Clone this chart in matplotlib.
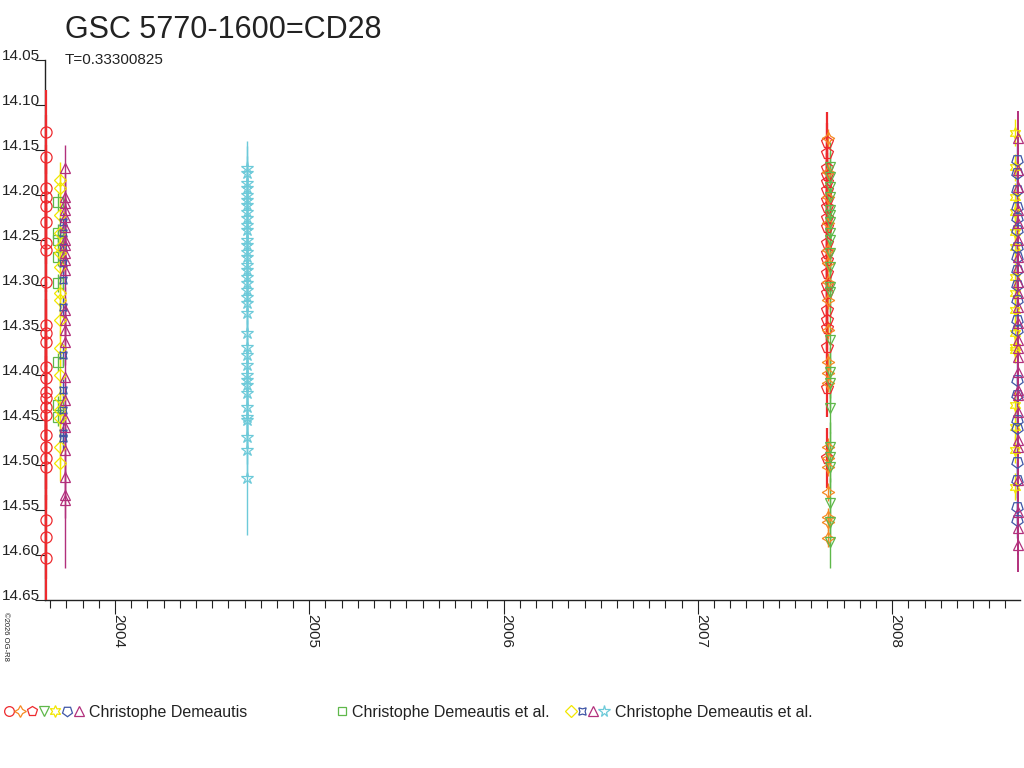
import matplotlib
matplotlib.use("Agg")
import matplotlib.pyplot as plt
import numpy as np
from matplotlib.lines import Line2D
from matplotlib.legend_handler import HandlerTuple
from matplotlib.ticker import MultipleLocator

plt.rcParams['font.family'] = ['Liberation Sans', 'DejaVu Sans']

# ---------------- data ----------------
title = "GSC 5770-1600=CD28"
subtitle = "T=0.33300825"
year_ticks = [2004, 2005, 2006, 2007, 2008]
mag_ticks = [14.05, 14.10, 14.15, 14.20, 14.25, 14.30, 14.35, 14.40, 14.45, 14.50, 14.55, 14.60, 14.65]

# cluster 1 (2003.6-2003.75)
c1_red_date = 2003.647
c1_red_mag = [14.130, 14.158, 14.192, 14.202, 14.212, 14.230, 14.253, 14.261, 14.297, 14.344,
              14.353, 14.363, 14.391, 14.403, 14.419, 14.426, 14.436, 14.444, 14.467, 14.480,
              14.492, 14.502, 14.561, 14.580, 14.603]
c1_red_err = 0.047

c1_green_date = 2003.707
c1_green_mag = [14.208, 14.242, 14.250, 14.269, 14.298, 14.386, 14.433, 14.447]
c1_green_err = 0.01

c1_yellow_date = 2003.717
c1_yellow_mag = [14.183, 14.192, 14.222, 14.242, 14.258, 14.264, 14.280, 14.309, 14.317, 14.339,
                 14.370, 14.400, 14.426, 14.439, 14.448, 14.480, 14.498]
c1_yellow_err = 0.02

c1_blue_date = 2003.732
c1_blue_mag = [14.230, 14.242, 14.258, 14.276, 14.294, 14.324, 14.378, 14.417, 14.439, 14.464, 14.470]
c1_blue_err = 0.012

c1_mag_date = 2003.743
c1_mag_mag = [14.170, 14.202, 14.209, 14.217, 14.224, 14.236, 14.250, 14.256, 14.264, 14.272,
              14.283, 14.328, 14.339, 14.350, 14.363, 14.402, 14.428, 14.448, 14.458, 14.483,
              14.513, 14.533, 14.539]
c1_mag_err = [0.026] * 22 + [0.075]

# cluster 2 (2004.68)
c2_cyan_date = 2004.679
c2_cyan_mag = [14.170, 14.176, 14.187, 14.192, 14.200, 14.206, 14.211, 14.219, 14.226, 14.233,
               14.239, 14.250, 14.256, 14.263, 14.269, 14.278, 14.283, 14.291, 14.298, 14.306,
               14.313, 14.320, 14.331, 14.353, 14.369, 14.378, 14.389, 14.400, 14.406, 14.411,
               14.420, 14.436, 14.447, 14.450, 14.469, 14.483, 14.514]
c2_cyan_err = [0.03] * 36 + [0.064]

# cluster 3 (2007.67)
c3_red_date = 2007.664
c3_red_mag = [14.141, 14.153, 14.170, 14.178, 14.186, 14.194, 14.206, 14.213, 14.226, 14.236,
              14.253, 14.264, 14.272, 14.287, 14.300, 14.309, 14.328, 14.339, 14.348, 14.369,
              14.414, 14.492]
c3_red_err = 0.033

c3_orange_date = 2007.669
c3_orange_mag = [14.137, 14.174, 14.202, 14.231, 14.261, 14.276, 14.297, 14.317, 14.350, 14.386,
                 14.398, 14.409, 14.480, 14.492, 14.502, 14.530, 14.558, 14.563, 14.581]
c3_orange_err = 0.01

c3_green_date = 2007.680
c3_green_mag = [14.169, 14.180, 14.191, 14.202, 14.217, 14.222, 14.230, 14.242, 14.250, 14.264,
                14.280, 14.302, 14.308, 14.361, 14.397, 14.409, 14.437, 14.480, 14.491, 14.502,
                14.542, 14.563, 14.586]
c3_green_err = 0.028

# cluster 4 (2008.64)
c4_yellow_date = 2008.632
c4_yellow_mag = [14.131, 14.169, 14.202, 14.219, 14.241, 14.258, 14.291, 14.309, 14.328, 14.353,
                 14.369, 14.372, 14.433, 14.458, 14.483, 14.524]
c4_yellow_err = 0.015

c4_blue_date = 2008.642
c4_blue_mag = [14.161, 14.176, 14.194, 14.213, 14.226, 14.239, 14.258, 14.269, 14.283, 14.300,
               14.317, 14.339, 14.350, 14.406, 14.422, 14.450, 14.459, 14.497, 14.517, 14.547, 14.561]
c4_blue_err = 0.02

c4_mag_date = 2008.647
c4_mag_mag = [14.137, 14.172, 14.191, 14.217, 14.231, 14.250, 14.269, 14.280, 14.297, 14.309,
              14.324, 14.342, 14.361, 14.370, 14.380, 14.397, 14.417, 14.422, 14.441, 14.472,
              14.480, 14.517, 14.552, 14.570, 14.589]
c4_mag_err = 0.03

legend1_label = "Christophe Demeautis"
legend2_label = "Christophe Demeautis et al."
legend3_label = "Christophe Demeautis et al."

# ---------------- styles ----------------
RED = '#ee2a2e'
ORANGE = '#f58a24'
GREEN = '#5fb84a'
YELLOW = '#f2e600'
BLUE = '#3f56a6'
MAGENTA = '#b2307c'
CYAN = '#6dcad9'

M_CIRCLE = 'o'
M_4STAR = (4, 1, 0)
M_PENT = 'p'
M_TRIDOWN = 'v'
M_6STAR = (6, 1, 0)
M_PENTDOWN = (5, 0, 180)
M_TRIUP = '^'
M_SQUARE = 's'
M_DIAMOND = 'D'
M_X4STAR = (4, 1, 45)
M_STAR = '*'

fig = plt.figure(figsize=(10.24, 7.68), dpi=100)
ax = fig.add_axes([45 / 1024, 1 - 600 / 768, 975 / 1024, 540 / 768])

series = [
    (c1_red_date, c1_red_mag, c1_red_err, RED, M_CIRCLE, 8.0, 1.6),
    (c1_green_date, c1_green_mag, c1_green_err, GREEN, M_SQUARE, 6.5, 1.0),
    (c1_yellow_date, c1_yellow_mag, c1_yellow_err, YELLOW, M_DIAMOND, 6.0, 1.0),
    (c1_blue_date, c1_blue_mag, c1_blue_err, BLUE, M_X4STAR, 7.5, 1.0),
    (c1_mag_date, c1_mag_mag, c1_mag_err, MAGENTA, M_TRIUP, 7.5, 1.0),
    (c2_cyan_date, c2_cyan_mag, c2_cyan_err, CYAN, M_STAR, 9.0, 1.0),
    (c3_red_date, c3_red_mag, c3_red_err, RED, M_PENT, 8.5, 1.6),
    (c3_orange_date, c3_orange_mag, c3_orange_err, ORANGE, M_4STAR, 9.0, 1.0),
    (c3_green_date, c3_green_mag, c3_green_err, GREEN, M_TRIDOWN, 7.5, 1.0),
    (c4_yellow_date, c4_yellow_mag, c4_yellow_err, YELLOW, M_6STAR, 8.5, 1.0),
    (c4_blue_date, c4_blue_mag, c4_blue_err, BLUE, M_PENTDOWN, 8.5, 1.0),
    (c4_mag_date, c4_mag_mag, c4_mag_err, MAGENTA, M_TRIUP, 7.5, 1.4),
]

for date, mags, err, col, mk, ms, elw in series:
    xs = np.full(len(mags), date)
    ax.errorbar(xs, mags, yerr=err, fmt='', marker=mk, linestyle='none', color=col,
                mfc='none', mec=col, ms=ms, mew=0.9, elinewidth=elw, capsize=0, clip_on=False,
                zorder=3)

ax.set_xlim(2003.6398, 2008.658)
ax.set_ylim(14.65, 14.05)

for s in ['top', 'right']:
    ax.spines[s].set_visible(False)
for s in ['left', 'bottom']:
    ax.spines[s].set_linewidth(1.0)
    ax.spines[s].set_color('#222222')
    ax.spines[s].set_zorder(2)

ax.set_yticks(mag_ticks)
ax.set_yticklabels([f"{v:.2f}" for v in mag_ticks])
ax.tick_params(axis='y', length=7.2, width=0.8, pad=-3.6, labelsize=11, colors='#222222')
for lbl in ax.get_yticklabels():
    lbl.set_va('baseline')

ax.set_xticks(year_ticks)
ax.set_xticklabels([])
ax.xaxis.set_minor_locator(MultipleLocator(1 / 12))
ax.tick_params(axis='x', which='major', length=10, width=0.8, colors='#222222')
ax.tick_params(axis='x', which='minor', length=5.8, width=0.8, colors='#222222')
for yr in year_ticks:
    ax.annotate(str(yr), xy=(yr, 0), xycoords=('data', 'axes fraction'),
                xytext=(-4, -14), textcoords='offset pixels', rotation=-90,
                ha='left', va='top', fontsize=11, color='#222222', annotation_clip=False)

fig.text(65 / 1024, 1 - 38 / 768, title, fontsize=22, color='#222222', va='baseline', ha='left')
fig.text(65 / 1024, 1 - 64 / 768, subtitle, fontsize=11, color='#222222', va='baseline', ha='left')
fig.text(2 / 1024, 1 - 612 / 768, "\u00a92026 OG-R8", fontsize=5.5, rotation=-90,
         va='top', ha='left', color='#222222')


def mk_handle(col, mk, ms=6.5):
    return Line2D([], [], ls='none', marker=mk, color=col, mfc='none', mec=col, ms=ms, mew=0.9)


g1 = (mk_handle(RED, M_CIRCLE, 7), mk_handle(ORANGE, M_4STAR, 8.5), mk_handle(RED, M_PENT, 7.5),
      mk_handle(GREEN, M_TRIDOWN, 7), mk_handle(YELLOW, M_6STAR, 8.5), mk_handle(BLUE, M_PENTDOWN, 7.5),
      mk_handle(MAGENTA, M_TRIUP, 7))
g2 = (mk_handle(GREEN, M_SQUARE, 6),)
g3 = (mk_handle(YELLOW, M_DIAMOND, 6), mk_handle(BLUE, M_X4STAR, 7.5), mk_handle(MAGENTA, M_TRIUP, 7),
      mk_handle(CYAN, M_STAR, 8.5))

for handles, label, x0, hl in [(g1, legend1_label, 3 / 1024, 5.1),
                               (g2, legend2_label, 336 / 1024, 0.7),
                               (g3, legend3_label, 565 / 1024, 2.8)]:
    fig.legend([handles], [label], loc='center left', bbox_to_anchor=(x0, 1 - 712 / 768),
               frameon=False, borderpad=0, borderaxespad=0, handletextpad=0.3,
               handlelength=hl, fontsize=11.5, labelcolor='#222222',
               handler_map={tuple: HandlerTuple(ndivide=None, pad=0)})

fig.savefig("out.png", dpi=100)
